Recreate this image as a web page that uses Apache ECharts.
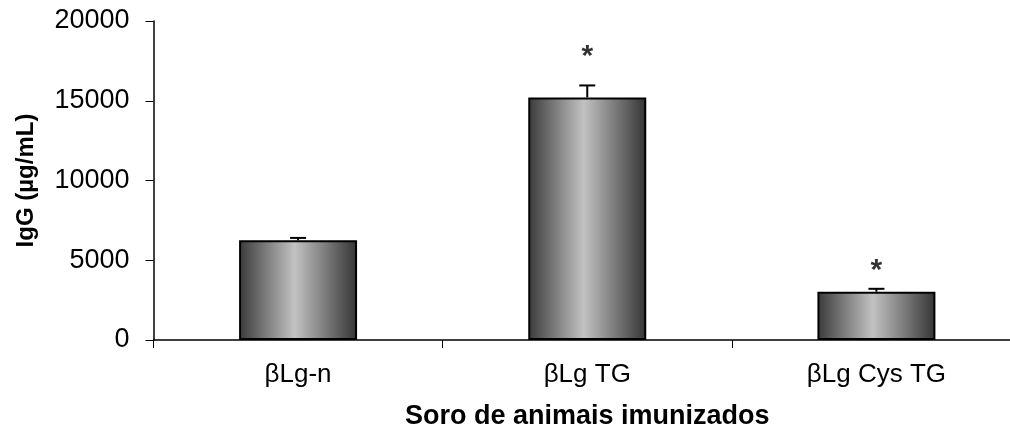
<!DOCTYPE html>
<html>
<head>
<meta charset="utf-8">
<script src="https://cdn.jsdelivr.net/npm/echarts@6/dist/echarts.min.js"></script>
<style>html,body{margin:0;padding:0;background:#fff;}#c{width:1010px;height:427px;}</style>
</head>
<body>
<div id="c"></div>
<script>
const categories = ['βLg-n', 'βLg TG', 'βLg Cys TG'];
const means = [6250, 15210, 3030];
const errors = [150, 750, 180];
const starValues = [null, 18150, 4750];
const yTicks = [0, 5000, 10000, 15000, 20000];

const chart = echarts.init(document.getElementById('c'), null, {renderer: 'canvas'});
const FONT = 'Liberation Sans, Arial, sans-serif';
const barGradient = new echarts.graphic.LinearGradient(0, 0, 1, 0, [
  {offset: 0, color: '#3a3a3a'},
  {offset: 0.47, color: '#c2c2c2'},
  {offset: 1, color: '#343434'}
]);

chart.setOption({
  animation: false,
  grid: {left: 153.5, right: -11, top: 21, bottom: 87, outerBoundsMode: 'none', containLabel: false},
  xAxis: {
    type: 'category',
    data: categories,
    name: 'Soro de animais imunizados',
    nameLocation: 'middle',
    nameGap: 63,
    nameTextStyle: {fontFamily: FONT, fontSize: 27, fontWeight: 'bold', color: '#000'},
    axisLine: {lineStyle: {color: '#000', width: 1.5}},
    axisTick: {show: true, length: 8, lineStyle: {color: '#000'}},
    axisLabel: {fontFamily: FONT, fontSize: 26, color: '#000', margin: 22}
  },
  yAxis: {
    type: 'value',
    min: yTicks[0],
    max: yTicks[yTicks.length - 1],
    interval: 5000,
    name: 'IgG (µg/mL)',
    nameLocation: 'middle',
    nameGap: 115,
    nameRotate: 90,
    nameTextStyle: {fontFamily: FONT, fontSize: 24, fontWeight: 'bold', color: '#000'},
    axisLine: {show: true, lineStyle: {color: '#000', width: 1.5}},
    axisTick: {show: true, length: 8, lineStyle: {color: '#000'}},
    splitLine: {show: false},
    axisLabel: {fontFamily: FONT, fontSize: 27, color: '#000', margin: 24, formatter: function (v) { return String(v); }}
  },
  series: [
    {
      type: 'bar',
      data: means,
      barWidth: '40.8%',
      itemStyle: {color: barGradient, borderColor: '#000', borderWidth: 2},
      z: 2
    },
    {
      type: 'custom',
      z: 3,
      data: means.map((m, i) => [i, m, m + errors[i]]),
      renderItem: function (params, api) {
        const base = api.coord([api.value(0), api.value(1)]);
        const top = api.coord([api.value(0), api.value(2)]);
        const hw = 8;
        return {
          type: 'group',
          children: [
            {type: 'line', shape: {x1: base[0], y1: base[1], x2: top[0], y2: top[1]}, style: {stroke: '#000', lineWidth: 2}},
            {type: 'line', shape: {x1: top[0] - hw, y1: top[1], x2: top[0] + hw, y2: top[1]}, style: {stroke: '#000', lineWidth: 2}}
          ]
        };
      }
    },
    {
      type: 'scatter',
      z: 4,
      symbolSize: 0,
      data: starValues.map((v, i) => v == null ? null : [i, v]),
      label: {show: true, position: 'inside', formatter: '*', fontFamily: FONT, fontSize: 30, fontWeight: 'bold', color: '#000', offset: [0, 6]}
    }
  ]
});
</script>
</body>
</html>
